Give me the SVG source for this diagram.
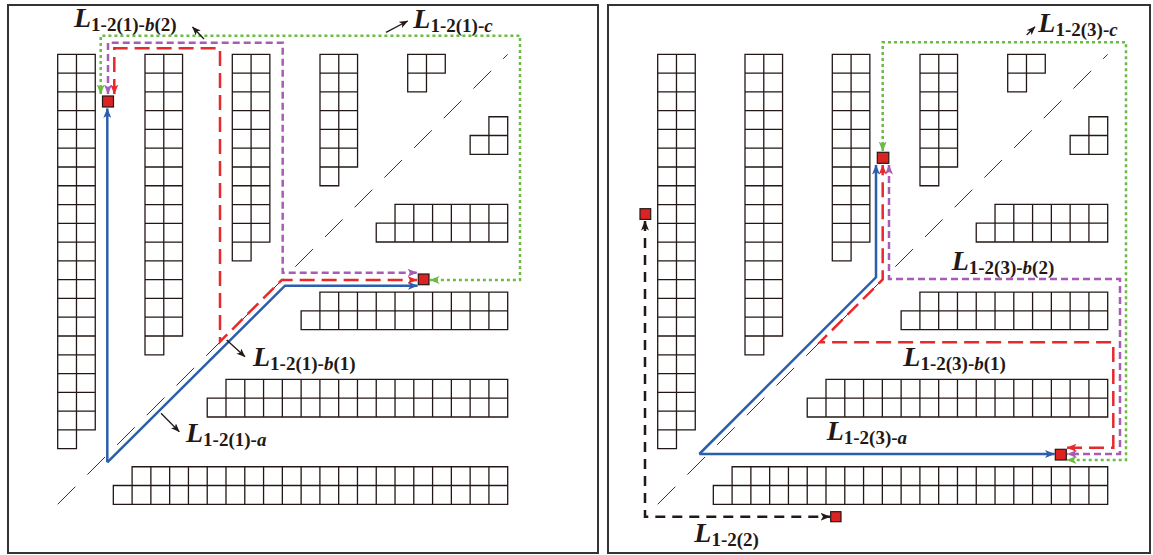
<svg xmlns="http://www.w3.org/2000/svg" width="1153" height="555" viewBox="0 0 1153 555">
<style>
.frame{fill:none;stroke:#333;stroke-width:2}
.cell{fill:none;stroke:#231815;stroke-width:1.3}
.diag{fill:none;stroke:#333;stroke-width:1;stroke-dasharray:25 17}
.blue{fill:none;stroke:#2b5fad;stroke-width:2.5}
.red{fill:none;stroke:#e8292b;stroke-width:2.5;stroke-dasharray:15 7}
.pur{fill:none;stroke:#a85cb6;stroke-width:2.5;stroke-dasharray:7 4}
.grn{fill:none;stroke:#6cbb45;stroke-width:2.5;stroke-dasharray:3 3}
.blk{fill:none;stroke:#231815;stroke-width:2.5;stroke-dasharray:10 7}
.ptr{fill:none;stroke:#231815;stroke-width:1.3}
.sq{fill:#dc2323;stroke:#231815;stroke-width:1.2}
.lab{font-family:"Liberation Serif","Times New Roman",serif;font-weight:bold;fill:#231815}
.L{font-style:italic;font-size:28px}
.s{font-size:19px}
.i{font-style:italic}
</style>
<defs>
<marker id="aB" viewBox="0 0 10 8" markerWidth="11" markerHeight="8" refX="9.5" refY="4" orient="auto-start-reverse" markerUnits="userSpaceOnUse"><path d="M0 0L10 4L0 8L2.5 4Z" fill="#2b5fad"/></marker>
<marker id="aR" viewBox="0 0 10 8" markerWidth="10" markerHeight="8" refX="9.5" refY="4" orient="auto-start-reverse" markerUnits="userSpaceOnUse"><path d="M0 0L10 4L0 8L2.5 4Z" fill="#e8292b"/></marker>
<marker id="aP" viewBox="0 0 10 8" markerWidth="10" markerHeight="8" refX="9.5" refY="4" orient="auto-start-reverse" markerUnits="userSpaceOnUse"><path d="M0 0L10 4L0 8L2.5 4Z" fill="#a85cb6"/></marker>
<marker id="aG" viewBox="0 0 10 8" markerWidth="10" markerHeight="8" refX="9.5" refY="4" orient="auto-start-reverse" markerUnits="userSpaceOnUse"><path d="M0 0L10 4L0 8L2.5 4Z" fill="#6cbb45"/></marker>
<marker id="aK" viewBox="0 0 10 8" markerWidth="10" markerHeight="8" refX="9.5" refY="4" orient="auto-start-reverse" markerUnits="userSpaceOnUse"><path d="M0 0L10 4L0 8L2.5 4Z" fill="#231815"/></marker>
<marker id="aT" viewBox="0 0 10 8" markerWidth="9" markerHeight="7" refX="9.5" refY="4" orient="auto" markerUnits="userSpaceOnUse"><path d="M0 0L10 4L0 8L2.5 4Z" fill="#231815"/></marker>
</defs>

<rect id="frame-left" class="frame" x="8" y="5" width="590" height="548"/>
<rect id="frame-right" class="frame" x="608" y="5" width="542" height="548"/>

<g id="racks-left">
<g id="cols-left" class="cell">
<path id="colA" d="M57.7 54.3H95.26V429.9H76.48V448.68H57.7Z M76.48 54.3V429.9 M57.7 73.08H95.26 M57.7 91.86H95.26 M57.7 110.64H95.26 M57.7 129.42H95.26 M57.7 148.2H95.26 M57.7 166.98H95.26 M57.7 185.76H95.26 M57.7 204.54H95.26 M57.7 223.32H95.26 M57.7 242.1H95.26 M57.7 260.88H95.26 M57.7 279.66H95.26 M57.7 298.44H95.26 M57.7 317.22H95.26 M57.7 336H95.26 M57.7 354.78H95.26 M57.7 373.56H95.26 M57.7 392.34H95.26 M57.7 411.12H95.26 M57.7 429.9H76.48"/>
<path id="colB" d="M145 54.3H182.56V336H163.78V354.78H145Z M163.78 54.3V336 M145 73.08H182.56 M145 91.86H182.56 M145 110.64H182.56 M145 129.42H182.56 M145 148.2H182.56 M145 166.98H182.56 M145 185.76H182.56 M145 204.54H182.56 M145 223.32H182.56 M145 242.1H182.56 M145 260.88H182.56 M145 279.66H182.56 M145 298.44H182.56 M145 317.22H182.56 M145 336H163.78"/>
<path id="colC" d="M232.3 54.3H269.86V242.1H251.08V260.88H232.3Z M251.08 54.3V242.1 M232.3 73.08H269.86 M232.3 91.86H269.86 M232.3 110.64H269.86 M232.3 129.42H269.86 M232.3 148.2H269.86 M232.3 166.98H269.86 M232.3 185.76H269.86 M232.3 204.54H269.86 M232.3 223.32H269.86 M232.3 242.1H251.08"/>
<path id="colD" d="M320 54.3H357.56V166.98H338.78V185.76H320Z M338.78 54.3V166.98 M320 73.08H357.56 M320 91.86H357.56 M320 110.64H357.56 M320 129.42H357.56 M320 148.2H357.56 M320 166.98H338.78"/>
<path id="colL" d="M407.7 54.3H445.26V73.08H426.48V91.86H407.7Z M426.48 54.3V73.08 M407.7 73.08H426.48"/>
</g>
<use id="rows-left" href="#cols-left" transform="matrix(0,-1,-1,0,562,562)"/>
<path class="diag" d="M57.7 504.3L507.7 54.3"/>
</g>
<use id="racks-right" href="#racks-left" transform="translate(600,0)"/>

<g id="connectors">
<!-- left panel -->
<path class="blue" d="M107.3 462.3V108.5" marker-end="url(#aB)"/>
<path class="blue" d="M107.3 462.3L285 285.7H417.5" marker-end="url(#aB)"/>
<path class="red" d="M114.3 94V48.3H220V341.7L281.7 280H417" marker-start="url(#aR)" marker-end="url(#aR)"/>
<path class="pur" d="M108 94V42.7H282.7V272.7H417" marker-start="url(#aP)" marker-end="url(#aP)"/>
<path class="grn" d="M100.7 94V35.7H520V280H430" marker-start="url(#aG)" marker-end="url(#aG)"/>
<path class="ptr" d="M204 39L192.5 27" marker-end="url(#aT)"/>
<path class="ptr" d="M386 32.3L407.7 21" marker-end="url(#aT)"/>
<path class="ptr" d="M226.7 340L245 356.7" marker-end="url(#aT)"/>
<path class="ptr" d="M161 413.3L179.3 431.7" marker-end="url(#aT)"/>
<!-- right panel -->
<path class="blue" d="M699.3 454H1054.5" marker-end="url(#aB)"/>
<path class="blue" d="M699.3 454L876 277.3V165" marker-end="url(#aB)"/>
<path class="red" d="M1067 447.7H1113.3V342.2H820L882.7 279.5V165" marker-start="url(#aR)" marker-end="url(#aR)"/>
<path class="pur" d="M889 165V279H1120V454H1067.3" marker-start="url(#aP)" marker-end="url(#aP)"/>
<path class="grn" d="M882.7 151V42.3H1126V460H1067" marker-start="url(#aG)" marker-end="url(#aG)"/>
<path class="blk" d="M645 221V516.7H830" marker-start="url(#aK)" marker-end="url(#aK)"/>
<path class="ptr" d="M1026.7 35L1035 26.7" marker-end="url(#aT)"/>
</g>

<g id="points">
<rect id="p-l1" class="sq" x="102.5" y="96" width="11" height="11"/>
<rect id="p-l2" class="sq" x="418.3" y="274" width="10.7" height="10.7"/>
<rect id="p-r1" class="sq" x="877.3" y="152.3" width="11.5" height="11"/>
<rect id="p-r2" class="sq" x="1055.3" y="449.3" width="11" height="10.7"/>
<rect id="p-r3" class="sq" x="640" y="208.7" width="10.7" height="10.7"/>
<rect id="p-r4" class="sq" x="830.7" y="511.7" width="10.3" height="10"/>
</g>

<g id="labels" class="lab">
<text x="74" y="26.7"><tspan class="L">L</tspan><tspan class="s" dy="4">1-2(1)-<tspan class="i">b</tspan>(2)</tspan></text>
<text x="413.3" y="28.3"><tspan class="L">L</tspan><tspan class="s" dy="4">1-2(1)-<tspan class="i">c</tspan></tspan></text>
<text x="253" y="365.7"><tspan class="L">L</tspan><tspan class="s" dy="4">1-2(1)-<tspan class="i">b</tspan>(1)</tspan></text>
<text x="186" y="441.7"><tspan class="L">L</tspan><tspan class="s" dy="4">1-2(1)-<tspan class="i">a</tspan></tspan></text>
<text x="1038.3" y="31.7"><tspan class="L">L</tspan><tspan class="s" dy="4">1-2(3)-<tspan class="i">c</tspan></tspan></text>
<text x="951.7" y="270"><tspan class="L">L</tspan><tspan class="s" dy="4">1-2(3)-<tspan class="i">b</tspan>(2)</tspan></text>
<text x="903.3" y="365.7"><tspan class="L">L</tspan><tspan class="s" dy="4">1-2(3)-<tspan class="i">b</tspan>(1)</tspan></text>
<text x="826.7" y="440"><tspan class="L">L</tspan><tspan class="s" dy="4">1-2(3)-<tspan class="i">a</tspan></tspan></text>
<text x="694.3" y="541.7"><tspan class="L">L</tspan><tspan class="s" dy="4">1-2(2)</tspan></text>
</g>
</svg>
